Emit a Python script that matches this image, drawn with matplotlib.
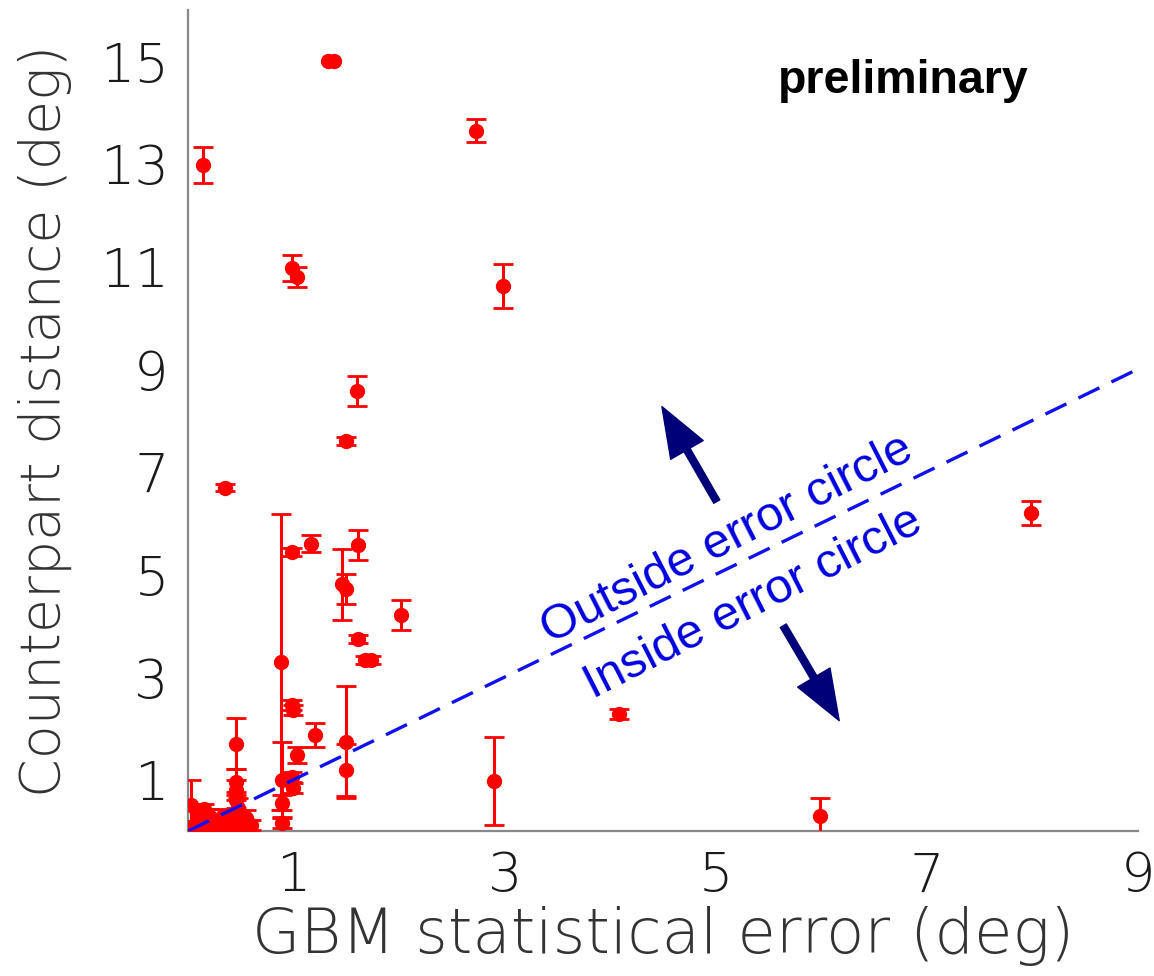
import matplotlib
matplotlib.use("Agg")
import matplotlib.pyplot as plt
import numpy as np

# GBM statistical error (deg), counterpart distance (deg) and its error
gbm_err = [1.33, 1.38, 0.14, 2.73, 0.98, 1.03, 2.98, 1.60, 1.50, 0.35,
           7.99, 0.88, 0.98, 1.16, 1.61, 1.46, 1.50, 2.02, 1.61, 1.68,
           1.73, 0.98, 0.99, 1.20, 1.50, 1.50, 1.03, 0.98, 0.99, 0.89,
           0.89, 0.89, 2.90, 4.08, 5.99, 0.45, 0.45, 0.45, 0.45, 0.47,
           0.44, 0.03, 0.08, 0.12, 0.15, 0.20, 0.25, 0.28, 0.30, 0.35,
           0.05, 0.10, 0.18, 0.40, 0.50, 0.55, 0.60, 0.52, 0.22, 0.33]
distance = [15.00, 15.00, 12.98, 13.65, 10.97, 10.80, 10.62, 8.58, 7.60, 6.69,
            6.20, 3.29, 5.44, 5.60, 5.57, 4.81, 4.72, 4.21, 3.74, 3.33,
            3.33, 2.46, 2.36, 1.87, 1.74, 1.19, 1.48, 1.05, 0.84, 0.55,
            0.16, 1.00, 0.97, 2.28, 0.29, 1.70, 0.95, 0.80, 0.60, 0.45,
            0.30, 0.50, 0.35, 0.25, 0.42, 0.30, 0.15, 0.22, 0.05, 0.12,
            0.10, 0.05, 0.10, 0.20, 0.20, 0.25, 0.12, 0.05, 0.10, 0.30]
dist_err = [0.00, 0.00, 0.35, 0.22, 0.25, 0.20, 0.43, 0.29, 0.08, 0.07,
            0.24, 2.89, 0.08, 0.17, 0.29, 0.69, 0.29, 0.29, 0.08, 0.08,
            0.08, 0.10, 0.10, 0.24, 1.09, 0.50, 0.16, 0.10, 0.10, 0.15,
            0.10, 0.73, 0.86, 0.10, 0.35, 0.50, 0.25, 0.20, 0.15, 0.20,
            0.10, 0.50, 0.15, 0.10, 0.10, 0.12, 0.10, 0.08, 0.05, 0.10,
            0.10, 0.05, 0.08, 0.15, 0.10, 0.15, 0.10, 0.05, 0.10, 0.12]

xticks = [1, 3, 5, 7, 9]
yticks = [1, 3, 5, 7, 9, 11, 13, 15]
diag = [0, 9]

x = np.array(gbm_err)
y = np.array(distance)
ye = np.array(dist_err)
has_err = ye > 0

fig = plt.figure(figsize=(11.54, 9.76), dpi=100)
ax = fig.add_axes([0.163, 0.1486, 0.823, 0.8412])

ax.errorbar(x[has_err], y[has_err], yerr=ye[has_err], fmt='o', color='red',
            markersize=10, elinewidth=2.2, capsize=7, capthick=2, zorder=3)
ax.plot(x[~has_err], y[~has_err], 'o', color='red', markersize=10, zorder=3)

# y = x line
ax.plot(diag, diag, color='#1010f0', lw=2.4, dashes=(7, 4), zorder=4)

ax.set_xlim(0, 9)
ax.set_ylim(0, 16)
ax.set_xticks(xticks)
ax.set_yticks(yticks)
ax.tick_params(length=0, pad=14, labelsize=39, labelcolor='#1a1a1a')
for lab in ax.get_xticklabels() + ax.get_yticklabels():
    lab.set_fontweight('light')
ax.spines['top'].set_visible(False)
ax.spines['right'].set_visible(False)
for s in ['left', 'bottom']:
    ax.spines[s].set_color('#888')
    ax.spines[s].set_linewidth(1.6)

ax.set_xlabel('GBM statistical error (deg)', fontsize=45, color='#333',
              fontweight='light', labelpad=2)
ax.set_ylabel('Counterpart distance (deg)', fontsize=40, color='#333',
              fontweight='light', labelpad=20)

ax.text(6.78, 14.62, 'preliminary', fontsize=33.5, fontweight='bold',
        family='Liberation Sans', ha='center', va='center')

ax.text(5.11, 5.67, 'Outside error circle', fontsize=35, color='#0000e0',
        family='Liberation Sans', rotation=27, rotation_mode='anchor',
        ha='center', va='center')
ax.text(5.36, 4.44, 'Inside error circle', fontsize=35, color='#0000e0',
        family='Liberation Sans', rotation=27, rotation_mode='anchor',
        ha='center', va='center')

arrow = dict(facecolor='#000078', edgecolor='#000078', width=5,
             headwidth=27, headlength=36, shrink=0)
ax.annotate('', xy=(4.49, 8.27), xytext=(5.01, 6.42), arrowprops=arrow)
ax.annotate('', xy=(6.17, 2.15), xytext=(5.64, 4.00), arrowprops=arrow)

fig.savefig('out.png', dpi=100)
